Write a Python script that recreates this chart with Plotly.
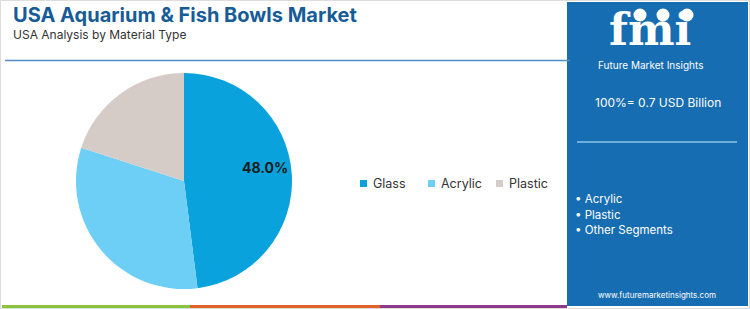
import math
import plotly.graph_objects as go

W, H = 750, 309

# Data
categories = ["Glass", "Acrylic", "Plastic"]
shares = [48.0, 32.0, 20.0]
slice_colors = ["#0aa2dc", "#6dcff6", "#d5ccc7"]
label_shown = [True, False, False]
panel_bullets = ["• Acrylic", "• Plastic", "• Other Segments"]
total_text = "100%= 0.7 USD Billion"


def px(x):
    return x / W


def py(y):
    return 1 - y / H


fig = go.Figure()

cx, cy, r = 184, 181, 108
fig.add_trace(go.Pie(
    labels=categories,
    values=shares,
    sort=False,
    direction="clockwise",
    rotation=0,
    marker=dict(colors=slice_colors, line=dict(width=0)),
    textinfo="none",
    domain=dict(x=[px(cx - r), px(cx + r)], y=[py(cy + r), py(cy - r)]),
    hoverinfo="label+percent",
    showlegend=False,
))

shapes = []
annotations = []
font_main = "Inter, Open Sans, sans-serif"

# slice labels, positioned from the data (mid-angle of each slice)
total = sum(shares)
cum = 0.0
for cat, val, show in zip(categories, shares, label_shown):
    mid = (cum + val / 2) / total * 2 * math.pi
    cum += val
    if not show:
        continue
    lx = cx + 0.75 * r * math.sin(mid)
    ly = cy - 0.75 * r * math.cos(mid)
    annotations.append(dict(text=f"<b>{val / total * 100:.1f}%</b>", x=px(lx), y=py(ly), xref="paper", yref="paper",
                            xanchor="center", yanchor="middle", showarrow=False, yshift=8,
                            font=dict(family=font_main, size=14, color="#1b1b1b")))

# manual legend
leg_x0, leg_dx, leg_y = 360, 68, 183.5
for i, (cat, col) in enumerate(zip(categories, slice_colors)):
    mx = leg_x0 + i * leg_dx
    shapes.append(dict(type="rect", xref="paper", yref="paper", x0=px(mx), x1=px(mx + 7),
                       y0=py(leg_y + 3.5), y1=py(leg_y - 3.5), line=dict(width=0), fillcolor=col))
    annotations.append(dict(text=cat, x=px(mx + 10.5), y=py(leg_y), xref="paper", yref="paper",
                            xanchor="left", yanchor="middle", showarrow=False,
                            font=dict(family=font_main, size=12.5, color="#333333")))

# outer border
shapes.append(dict(type="rect", xref="paper", yref="paper", x0=px(0.5), x1=px(749.5), y0=py(308.5), y1=py(0.5),
                   line=dict(color="#dddddd", width=1), fillcolor="rgba(0,0,0,0)", layer="below"))

# header line
shapes.append(dict(type="line", xref="paper", yref="paper", x0=px(5), x1=px(570), y0=py(60.5), y1=py(60.5),
                   line=dict(color="#4f8fc8", width=1.5)))

# bottom stripes
for x0, x1, c in [(2, 190, "#8cc43f"), (190, 380, "#e0622a"), (380, 567, "#8c3a8c")]:
    shapes.append(dict(type="rect", xref="paper", yref="paper", x0=px(x0), x1=px(x1), y0=py(308), y1=py(305),
                       line=dict(width=0), fillcolor=c))

# right panel
shapes.append(dict(type="rect", xref="paper", yref="paper", x0=px(567), x1=px(748), y0=py(306), y1=py(2),
                   line=dict(width=0), fillcolor="#176db1", layer="below"))
shapes.append(dict(type="line", xref="paper", yref="paper", x0=px(577), x1=px(737), y0=py(142), y1=py(142),
                   line=dict(color="#8cc4ec", width=1.5)))
# logo dots
for dx in (640, 663, 687):
    shapes.append(dict(type="circle", xref="paper", yref="paper", x0=px(dx - 6.5), x1=px(dx + 6.5), y0=py(21.5), y1=py(8.5),
                       line=dict(width=0), fillcolor="white"))

annotations.append(dict(text="<b>USA Aquarium & Fish Bowls Market</b>", x=px(11), y=py(15), xref="paper", yref="paper",
                        xanchor="left", yanchor="middle", showarrow=False,
                        font=dict(family=font_main, size=20, color="#175b97")))
annotations.append(dict(text="USA Analysis by Material Type", x=px(11), y=py(35), xref="paper", yref="paper",
                        xanchor="left", yanchor="middle", showarrow=False,
                        font=dict(family=font_main, size=12, color="#333333")))

annotations.append(dict(text="<b>fmi</b>", x=px(650), y=py(30), xref="paper", yref="paper",
                        xanchor="center", yanchor="middle", showarrow=False,
                        font=dict(family="DejaVu Serif, serif", size=44, color="white")))
annotations.append(dict(text="Future Market Insights", x=px(650), y=py(65), xref="paper", yref="paper",
                        xanchor="center", yanchor="middle", showarrow=False,
                        font=dict(family=font_main, size=10, color="white")))
annotations.append(dict(text=total_text, x=px(658), y=py(102), xref="paper", yref="paper",
                        xanchor="center", yanchor="middle", showarrow=False,
                        font=dict(family=font_main, size=12, color="white")))
for i, b in enumerate(panel_bullets):
    annotations.append(dict(text=b, x=px(573), y=py(199 + 15.5 * i), xref="paper", yref="paper",
                            xanchor="left", yanchor="middle", showarrow=False,
                            font=dict(family=font_main, size=11.5, color="white")))
annotations.append(dict(text="www.futuremarketinsights.com", x=px(657), y=py(295), xref="paper", yref="paper",
                        xanchor="center", yanchor="middle", showarrow=False,
                        font=dict(family=font_main, size=8, color="white")))

fig.update_layout(
    width=W, height=H,
    margin=dict(l=0, r=0, t=0, b=0),
    paper_bgcolor="white",
    plot_bgcolor="white",
    shapes=shapes,
    annotations=annotations,
    showlegend=False,
)

fig.write_html("out.html")
